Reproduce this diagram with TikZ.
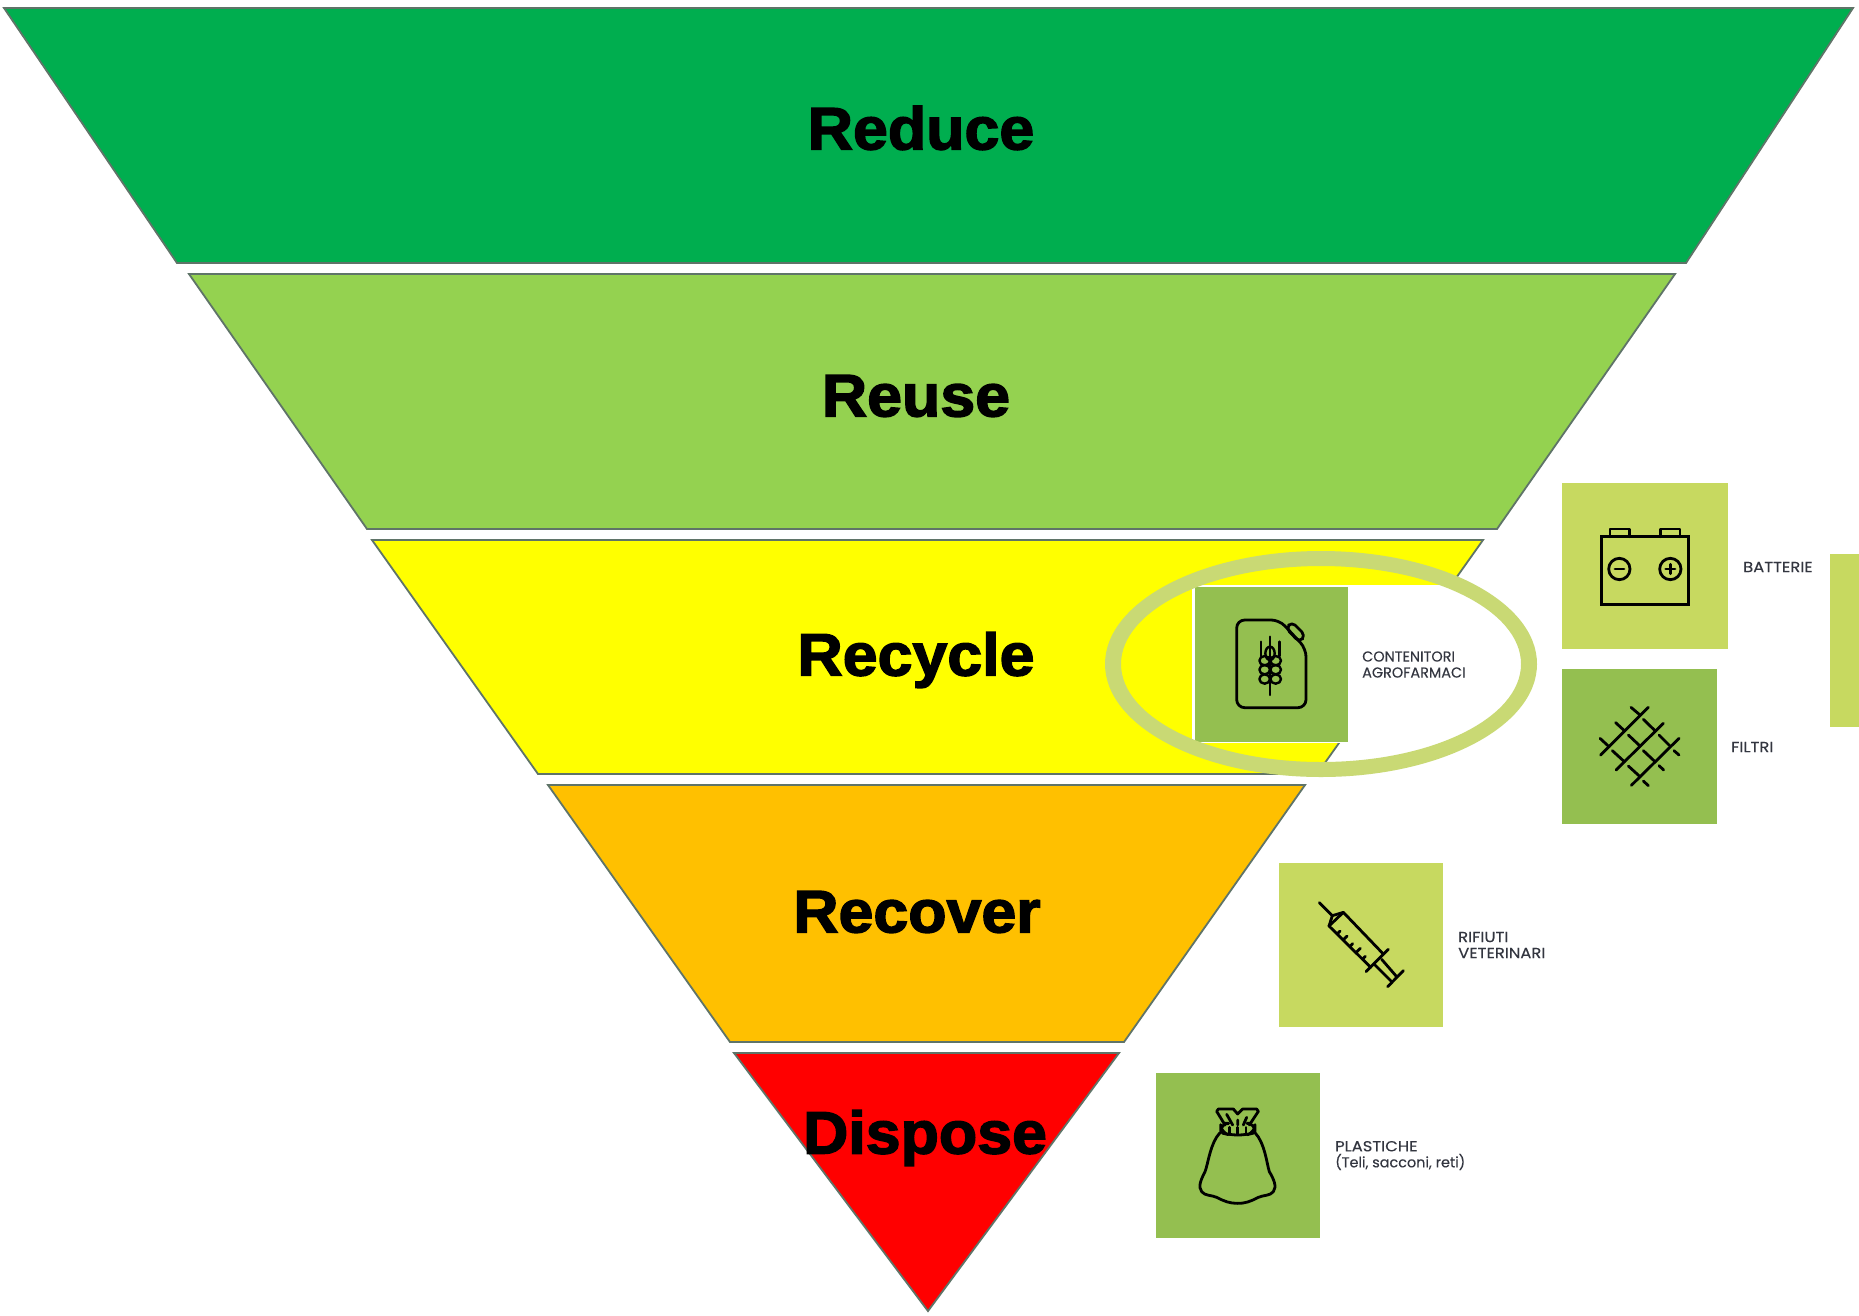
\documentclass[tikz,border=0pt]{standalone}
\usepackage{fontspec}
\setmainfont{Poppins}
\newfontfamily\heavy[BoldFeatures={FakeBold=2.4,FakeStretch=1.045}]{Liberation Sans}
\newfontfamily\wide[FakeStretch=1.12,FakeBold=0.25]{Poppins}
\newfontfamily\plain[FakeBold=0.25]{Poppins}
\definecolor{cReduce}{HTML}{00AE4F}
\definecolor{cReuse}{HTML}{94D250}
\definecolor{cRecycle}{HTML}{FFFF00}
\definecolor{cRecover}{HTML}{FFC000}
\definecolor{cDispose}{HTML}{FF0000}
\definecolor{cLight}{HTML}{C7D960}
\definecolor{cDark}{HTML}{94BF50}
\definecolor{cRing}{HTML}{C9D974}
\definecolor{cEdge}{HTML}{5F7468}
\definecolor{cText}{HTML}{333640}
\tikzset{
  tier/.style={draw=cEdge,line width=1.8pt,line join=miter},
  tiertext/.style={inner sep=0pt,font=\heavy\bfseries\fontsize{60}{60}\selectfont,text=black},
  caption/.style={inner sep=0pt,anchor=west,align=left,text=cText,font=\wide\fontsize{14.6}{16}\selectfont},
  captionsmall/.style={caption,font=\plain\fontsize{14.4}{16}\selectfont},
  iconline/.style={draw=black,line width=2.8pt,line cap=round,line join=round},
  zoomed/.style={scale=0.33333}
}
\begin{document}
\begin{tikzpicture}[x=1pt,y=-1pt]
\useasboundingbox (0,0) rectangle (1859,1315);
\fill[white] (0,0) rectangle (1859,1315);
% pyramid tiers
\draw[tier,fill=cReduce] (4,8) -- (1853,8) -- (1686,263) -- (177,263) -- cycle;
\draw[tier,fill=cReuse] (189,274) -- (1675,274) -- (1497,529) -- (367,529) -- cycle;
\draw[tier,fill=cRecycle] (372,540) -- (1483,540) -- (1317,774) -- (538,774) -- cycle;
\draw[tier,fill=cRecover] (548,785) -- (1305,785) -- (1124,1042) -- (730,1042) -- cycle;
\draw[tier,fill=cDispose] (734,1053) -- (1119,1053) -- (928,1311) -- cycle;
\node[tiertext] (reduce) at (921,128) {Reduce};
\node[tiertext] (reuse) at (916,396) {Reuse};
\node[tiertext] (recycle) at (916,660) {Recycle};
\node[tiertext] (recover) at (917,912) {Recover};
\node[tiertext] (dispose) at (925,1138) {Dispose};
% highlighted item: white patch, swatch and ring
\fill[white] (1192,585) rectangle (1500,743);
\fill[cDark] (1195,587) rectangle (1348,742);
\fill[cRing,even odd rule] (1321,664) ellipse [x radius=216,y radius=113]
                           (1321,664) ellipse [x radius=200,y radius=98];
% swatches
\fill[cLight] (1562,483) rectangle (1728,649);
\fill[cDark] (1562,669) rectangle (1717,824);
\fill[cLight] (1830,554) rectangle (1859,727);
\fill[cLight] (1279,863) rectangle (1443,1027);
\fill[cDark] (1156,1073) rectangle (1320,1238);
% captions
\node[captionsmall] (agro) at (1362,664.5) {CONTENITORI\\AGROFARMACI};
\node[caption] (batt) at (1743,567) {BATTERIE};
\node[caption] (filt) at (1731,747) {FILTRI};
\node[caption] (vete) at (1458,945) {RIFIUTI\\VETERINARI};
\node[caption] (plas) at (1335,1155.5) {PLASTICHE\\{\plain\fontsize{14.4}{16}\selectfont (Teli, sacconi, reti)}};
% jerrycan icon
\begin{scope}[shift={(1180,570)},zoomed]
\draw[iconline,rounded corners=8] (170,413) -- (170,150) -- (298,150) -- (378,236) -- (378,413) -- cycle;
\draw[iconline,rounded corners=5] (318,175) -- (335,155) -- (376,196) -- (359,217) -- cycle;
\begin{scope}[line width=2.4pt]
\draw[iconline,line width=2.4pt] (270,200) -- (270,375) (243,215) -- (243,258) (298,215) -- (298,258);
\draw[iconline,line width=2.4pt] (270,250) ellipse [x radius=14,y radius=20];
\foreach \yy in {272,299,327}{
  \draw[iconline,line width=2.4pt] (254,\yy) ellipse [x radius=16,y radius=14];
  \draw[iconline,line width=2.4pt] (287,\yy) ellipse [x radius=16,y radius=14];
}
\end{scope}
\end{scope}
% battery icon
\begin{scope}[shift={(1560,480)},zoomed]
\draw[iconline,line join=miter] (125,170) rectangle (385,373);
\draw[iconline] (150,170) -- (150,147) -- (208,147) -- (208,170);
\draw[iconline] (302,170) -- (302,147) -- (360,147) -- (360,170);
\draw[iconline] (178,267) circle [radius=32];
\draw[iconline] (331,267) circle [radius=32];
\draw[iconline] (165,267) -- (192,267) (317,267) -- (345,267) (331,253) -- (331,281);
\end{scope}
% net icon
\begin{scope}[shift={(1560,480)},zoomed]
\draw[iconline] (122,825) -- (265,682) (168,870) -- (310,730) (214,916) -- (357,775);
\draw[iconline] (120,775) -- (147,800) (167,728) -- (193,752) (213,682) -- (240,705);
\draw[iconline] (157,812) -- (193,845) (205,765) -- (240,798) (250,718) -- (285,752);
\draw[iconline] (205,858) -- (240,890) (250,812) -- (285,845) (297,765) -- (330,798);
\draw[iconline] (250,903) -- (265,917) (297,857) -- (311,870) (342,812) -- (357,825);
\end{scope}
% syringe icon
\begin{scope}[shift={(1280,870)},zoomed]
\draw[iconline] (118,98) -- (157,137);
\draw[iconline] (147,168) -- (157,137) -- (190,127) -- (308,250);
\draw[iconline] (190,127) -- (147,168) -- (272,292);
\draw[iconline] (325,238) -- (258,305);
\draw[iconline] (305,268) -- (350,320) (285,285) -- (335,335);
\draw[iconline] (370,302) -- (323,350);
\draw[iconline] (172,191) -- (180,183) (190,209) -- (201,198) (210,229) -- (218,221) (228,248) -- (241,235) (248,267) -- (256,259);
\end{scope}
% sack icon
\begin{scope}[shift={(1170,1090)},zoomed]
\draw[iconline] (165,105) -- (140,64) -- (145,57) -- (190,57) -- (203,72) -- (218,57) -- (260,57) -- (265,64) -- (238,105);
\draw[iconline] (170,73) -- (188,105) (203,90) -- (203,105) (230,82) -- (220,105);
\draw[iconline,rounded corners=8] (165,100) -- (152,100) -- (152,128) -- (180,135) -- (228,135) -- (255,128) -- (255,100) -- (240,100);
\draw[iconline] (178,112) -- (178,132) (203,112) -- (203,134) (228,112) -- (228,132);
\draw[iconline] (150,128) .. controls (120,160) and (115,220) .. (105,245)
  .. controls (95,265) and (82,290) .. (95,305)
  .. controls (105,318) and (125,315) .. (140,322)
  .. controls (165,335) and (180,340) .. (203,340)
  .. controls (226,340) and (240,335) .. (265,322)
  .. controls (280,315) and (300,318) .. (310,305)
  .. controls (322,290) and (310,265) .. (298,245)
  .. controls (290,220) and (285,160) .. (255,128);
\end{scope}
\end{tikzpicture}
\end{document}
